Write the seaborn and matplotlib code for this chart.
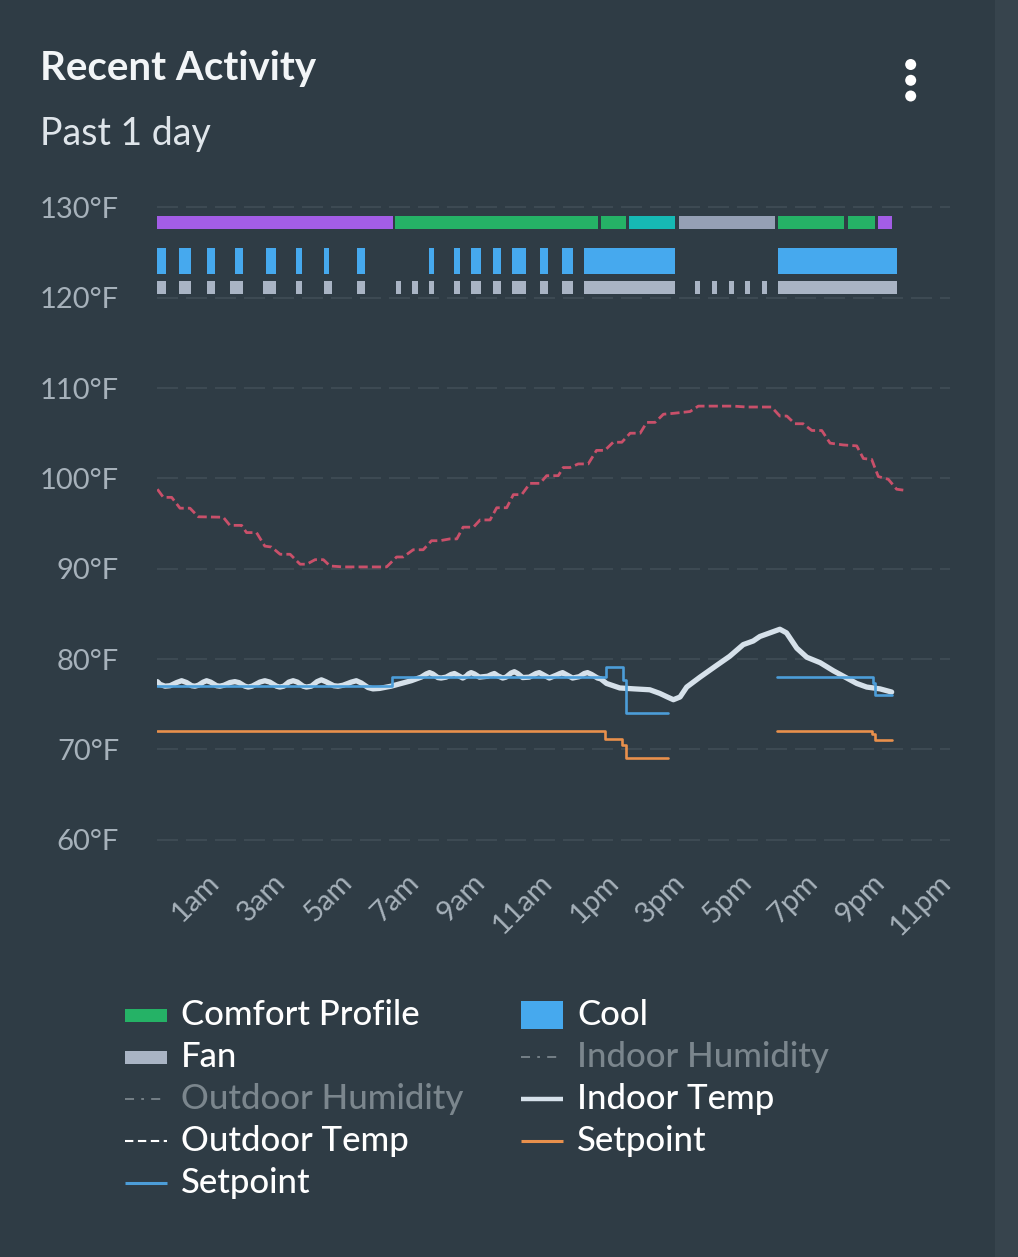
import numpy as np
import pandas as pd
import matplotlib
matplotlib.use("Agg")
import matplotlib.pyplot as plt
import matplotlib.transforms as mtrans
import seaborn as sns
from matplotlib.patches import Rectangle, Ellipse
from matplotlib.lines import Line2D

# ---------------- data (hours of day, °F) ----------------
tick_hours = [1, 3, 5, 7, 9, 11, 13, 15, 17, 19, 21, 23]
tick_labels = ["1am", "3am", "5am", "7am", "9am", "11am", "1pm", "3pm", "5pm", "7pm", "9pm", "11pm"]
y_ticks = [60, 70, 80, 90, 100, 110, 120, 130]
y_labels = ["60°F", "70°F", "80°F", "90°F", "100°F", "110°F", "120°F", "130°F"]

# comfort profile segments
comfort_start = [-0.73, 6.42, 12.60, 13.44, 14.94, 17.93, 20.02, 20.94]
comfort_end = [6.34, 12.50, 13.35, 14.84, 17.84, 19.92, 20.84, 21.34]
comfort_kind = ["sleep", "home", "home", "custom", "away", "home", "home", "sleep"]

# cool runtime
cool_start = [-0.73, -0.07, 0.77, 1.61, 2.53, 3.45, 4.28, 5.28, 7.43, 8.19, 8.69, 9.36,
              9.94, 10.77, 11.43, 12.10, 17.93]
cool_end = [-0.48, 0.27, 1.01, 1.84, 2.84, 3.61, 4.44, 5.51, 7.59, 8.36, 9.01, 9.59,
            10.35, 11.01, 11.76, 14.84, 21.50]

# fan runtime
fan_start = [-0.73, -0.07, 0.77, 1.44, 2.44, 3.45, 4.28, 5.28, 6.43, 6.93, 7.43, 8.19,
             8.69, 9.36, 9.94, 10.77, 11.43, 12.10, 15.44, 15.94, 16.44, 16.94, 17.43, 17.93]
fan_end = [-0.48, 0.27, 1.01, 1.84, 2.84, 3.61, 4.51, 5.51, 6.59, 7.09, 7.59, 8.36,
           9.01, 9.59, 10.35, 11.01, 11.76, 14.84, 15.59, 16.09, 16.59, 17.09, 17.59, 21.50]

# outdoor temperature
outdoor_h = [-0.73, -0.55, -0.30, -0.05, 0.25, 0.50, 1.25, 1.45, 1.80, 1.95, 2.25, 2.50,
             2.70, 2.96, 3.26, 3.56, 3.76, 4.01, 4.26, 4.46, 4.86, 6.16, 6.46, 6.66,
             6.96, 7.26, 7.51, 7.76, 8.06, 8.27, 8.46, 8.77, 8.97, 9.27, 9.47, 9.77,
             9.97, 10.22, 10.47, 10.77, 10.97, 11.32, 11.47, 11.67, 11.92, 12.22, 12.47, 12.72,
             12.97, 13.23, 13.48, 13.78, 13.98, 14.23, 14.48, 14.78, 15.28, 15.53, 16.58, 16.98,
             17.73, 17.98, 18.19, 18.43, 18.68, 18.94, 19.24, 19.49, 19.89, 20.29, 20.49, 20.74,
             20.94, 21.24, 21.49, 21.69]
outdoor_t = [98.8, 97.9, 97.9, 96.7, 96.7, 95.75, 95.7, 94.8, 94.8, 94.0, 94.0, 92.5,
             92.4, 91.6, 91.6, 90.5, 90.5, 91.0, 91.0, 90.3, 90.2, 90.2, 91.3, 91.3,
             92.1, 92.1, 93.1, 93.1, 93.3, 93.3, 94.6, 94.6, 95.4, 95.4, 96.75, 96.75,
             98.2, 98.2, 99.45, 99.45, 100.3, 100.3, 101.2, 101.2, 101.6, 101.6, 103.1, 103.1,
             104.0, 104.0, 105.0, 105.0, 106.2, 106.2, 107.1, 107.2, 107.4, 108.0, 108.0, 107.9,
             107.9, 106.9, 106.9, 106.05, 106.05, 105.3, 105.3, 103.9, 103.7, 103.6, 102.2, 102.1,
             100.2, 99.9, 98.8, 98.7]

# indoor temperature
indoor_h = [-0.73, -0.65, -0.50, -0.35, -0.15, 0.00, 0.15, 0.30, 0.40, 0.50, 0.65, 0.75,
            0.87, 1.05, 1.15, 1.27, 1.45, 1.60, 1.72, 1.90, 2.00, 2.12, 2.35, 2.50,
            2.65, 2.85, 2.95, 3.07, 3.22, 3.35, 3.48, 3.65, 3.75, 3.90, 4.07, 4.20,
            4.33, 4.57, 4.70, 4.85, 5.10, 5.25, 5.40, 5.60, 5.75, 5.95, 6.30, 6.90,
            7.20, 7.35, 7.45, 7.55, 7.70, 7.80, 7.95, 8.10, 8.20, 8.30, 8.45, 8.55,
            8.62, 8.70, 8.80, 8.95, 9.20, 9.32, 9.40, 9.50, 9.65, 9.75, 9.90, 10.00,
            10.10, 10.25, 10.45, 10.65, 10.75, 10.85, 11.05, 11.25, 11.37, 11.45, 11.55, 11.75,
            11.95, 12.10, 12.20, 12.32, 12.50, 12.60, 12.77, 13.17, 13.60, 14.07, 14.37, 14.60,
            14.78, 14.98, 15.18, 15.58, 16.08, 16.47, 16.88, 17.18, 17.38, 17.68, 17.98, 18.18,
            18.49, 18.79, 19.19, 19.59, 19.99, 20.29, 20.59, 20.99, 21.34]
indoor_t = [77.5, 77.2, 77.0, 77.05, 77.4, 77.6, 77.4, 77.05, 77.0, 77.1, 77.45, 77.6,
            77.45, 77.05, 77.0, 77.1, 77.4, 77.5, 77.4, 77.0, 76.9, 77.0, 77.45, 77.6,
            77.45, 77.0, 76.9, 77.0, 77.45, 77.6, 77.45, 77.0, 76.9, 77.0, 77.5, 77.7,
            77.5, 77.05, 77.0, 77.1, 77.45, 77.6, 77.35, 76.85, 76.7, 76.75, 77.0, 77.6,
            78.0, 78.35, 78.5, 78.35, 77.95, 77.9, 78.0, 78.3, 78.4, 78.2, 77.9, 78.1,
            78.35, 78.5, 78.35, 78.0, 78.1, 78.3, 78.4, 78.15, 77.9, 78.0, 78.45, 78.6,
            78.4, 77.95, 78.0, 78.4, 78.5, 78.3, 77.9, 78.2, 78.4, 78.5, 78.3, 77.9,
            78.05, 78.4, 78.5, 78.3, 77.9, 77.8, 77.3, 76.8, 76.7, 76.6, 76.2, 75.8,
            75.5, 75.8, 76.9, 78.0, 79.3, 80.3, 81.6, 82.0, 82.5, 82.9, 83.3, 82.9,
            81.2, 80.2, 79.6, 78.7, 77.9, 77.3, 76.9, 76.7, 76.35]

# cool setpoint (two segments, step-post)
cool_sp1_h = [-0.73, 6.31, 12.74, 13.27, 13.35, 14.61]
cool_sp1_t = [77.0, 78.0, 79.1, 77.7, 74.0, 74.0]
cool_sp2_h = [17.90, 20.79, 20.85, 21.34]
cool_sp2_t = [78.0, 77.4, 76.0, 76.0]

# heat setpoint (two segments, step-post)
heat_sp1_h = [-0.73, 12.72, 13.23, 13.35, 14.61]
heat_sp1_t = [72.0, 71.1, 70.5, 69.1, 69.1]
heat_sp2_h = [17.90, 20.76, 20.84, 21.34]
heat_sp2_t = [72.0, 71.7, 71.0, 71.0]

# ---------------- styling ----------------
BG = "#2f3c45"
GRID = "#3d4a53"
TICK = "#a6b1ba"
C_COMFORT = {"sleep": "#a35de6", "home": "#25b266", "custom": "#16b9b4", "away": "#95a0b5"}
C_COOL = "#46a9ee"
C_FAN = "#a9b4c4"
C_OUT = "#c9506a"
C_IN = "#d6e1ea"
C_SPC = "#4c9dd8"
C_SPH = "#e8904c"
GREY_TXT = "#7b868d"

sns.set_theme(style="dark")
plt.rcParams["font.family"] = ["Lato", "DejaVu Sans"]

W, H = 1018, 1257
fig = plt.figure(figsize=(W / 100, H / 100), dpi=100, facecolor=BG)


def fx(px):
    return px / W


def fy(py):
    return 1 - py / H


# right strip
fig.add_artist(Rectangle((fx(995), 0), fx(W - 995), 1, transform=fig.transFigure,
                         facecolor="#37444d", edgecolor="none", zorder=0))

ax = fig.add_axes([fx(156.7), fy(857.8), (950.2 - 156.7) / W, (857.8 - 189.3) / H])
ax.set_facecolor(BG)
for s in ax.spines.values():
    s.set_visible(False)
ax.set_xlim(-0.75, 23.1)
ax.set_ylim(58, 132)
ax.set_yticks(y_ticks)
ax.set_yticklabels(y_labels)
ax.set_xticks(tick_hours)
ax.set_xticklabels(tick_labels, rotation=45, ha="right", rotation_mode="anchor")
ax.tick_params(axis="y", length=0, pad=27, labelcolor=TICK, labelsize=21)
ax.tick_params(axis="x", length=0, pad=8, labelcolor=TICK, labelsize=21)
shift = mtrans.ScaledTranslation(-9 / 100, 0, fig.dpi_scale_trans)
for lab in ax.get_xticklabels():
    lab.set_transform(lab.get_transform() + shift)
ax.xaxis.grid(False)
ax.yaxis.grid(True, color=GRID, linewidth=1.44, linestyle=(0, (10.5, 4)))
ax.set_axisbelow(True)

# bars
ax.barh([128.37] * len(comfort_start), np.array(comfort_end) - np.array(comfort_start),
        left=comfort_start, height=1.44,
        color=[C_COMFORT[k] for k in comfort_kind], edgecolor="none", zorder=3)
ax.barh([124.05] * len(cool_start), np.array(cool_end) - np.array(cool_start),
        left=cool_start, height=2.95, color=C_COOL, edgecolor="none", zorder=3)
ax.barh([121.1] * len(fan_start), np.array(fan_end) - np.array(fan_start),
        left=fan_start, height=1.47, color=C_FAN, edgecolor="none", zorder=3)

# lines
sns.lineplot(x=indoor_h, y=indoor_t, ax=ax, color=C_IN, linewidth=3.8,
             estimator=None, sort=False, solid_capstyle="round", solid_joinstyle="round", zorder=4)
for hh, tt in [(cool_sp1_h, cool_sp1_t), (cool_sp2_h, cool_sp2_t)]:
    sns.lineplot(x=hh, y=tt, ax=ax, color=C_SPC, linewidth=1.9, estimator=None,
                 sort=False, drawstyle="steps-post", zorder=5)
for hh, tt in [(heat_sp1_h, heat_sp1_t), (heat_sp2_h, heat_sp2_t)]:
    sns.lineplot(x=hh, y=tt, ax=ax, color=C_SPH, linewidth=1.9, estimator=None,
                 sort=False, drawstyle="steps-post", zorder=5)
sns.lineplot(x=outdoor_h, y=outdoor_t, ax=ax, color=C_OUT, linewidth=2.0,
             estimator=None, sort=False, linestyle=(0, (3.3, 1.5)), zorder=5)
ax.set_xlabel("")
ax.set_ylabel("")

# title
fig.text(fx(40), fy(80), "Recent Activity", fontsize=29, fontweight="bold",
         color="#f2f5f7", va="baseline", ha="left")
fig.text(fx(40), fy(145), "Past 1 day", fontsize=27, fontweight="normal",
         color="#dfe5ea", va="baseline", ha="left")

# menu dots
for cy in [64.5, 80.3, 96.0]:
    fig.add_artist(Ellipse((fx(910.7), fy(cy)), 11 / W, 11 / H, transform=fig.transFigure,
                           facecolor="white", edgecolor="none"))

# legend (manual)
rows = [1015, 1057, 1099, 1141, 1183]
LFS = 25


def leg_rect(x0, x1, yc, h, color):
    fig.add_artist(Rectangle((fx(x0), fy(yc + h / 2)), (x1 - x0) / W, h / H,
                             transform=fig.transFigure, facecolor=color, edgecolor="none"))


def leg_line(x0, x1, yc, color, lw, ls="-"):
    fig.add_artist(Line2D([fx(x0), fx(x1)], [fy(yc), fy(yc)], transform=fig.transFigure,
                          color=color, linewidth=lw, linestyle=ls, solid_capstyle="butt"))


def leg_text(x, yc, s, color="white"):
    fig.text(fx(x), fy(yc), s, fontsize=LFS, color=color, va="center", ha="left",
             fontweight="medium")


c1m, c1t = (125, 167), 181
c2m, c2t = (521, 563), 577

leg_rect(*c1m, rows[0], 13, C_COMFORT["home"]); leg_text(c1t, rows[0], "Comfort Profile")
leg_rect(*c1m, rows[1], 13, C_FAN); leg_text(c1t, rows[1], "Fan")
leg_line(*c1m, rows[2], GREY_TXT, 1.3, (0, (5, 4, 1.5, 4))); leg_text(c1t, rows[2], "Outdoor Humidity", GREY_TXT)
leg_line(*c1m, rows[3], "white", 1.5, (0, (4, 2.2))); leg_text(c1t, rows[3], "Outdoor Temp")
leg_line(*c1m, rows[4], C_SPC, 2.2); leg_text(c1t, rows[4], "Setpoint")

leg_rect(*c2m, rows[0], 28, C_COOL); leg_text(c2t, rows[0], "Cool")
leg_line(*c2m, rows[1], GREY_TXT, 1.3, (0, (5, 4, 1.5, 4))); leg_text(c2t, rows[1], "Indoor Humidity", GREY_TXT)
leg_line(*c2m, rows[2], C_IN, 3.2); leg_text(c2t, rows[2], "Indoor Temp")
leg_line(*c2m, rows[3], C_SPH, 2.2); leg_text(c2t, rows[3], "Setpoint")

fig.savefig("out.png", dpi=100, facecolor=BG)
